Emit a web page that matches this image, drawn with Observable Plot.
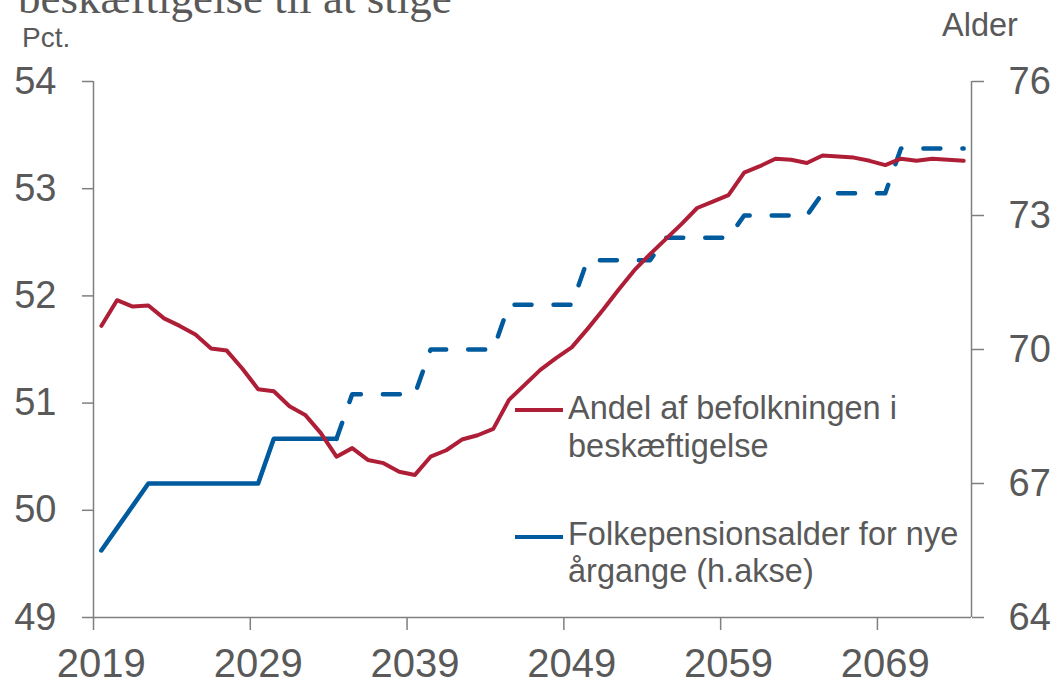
<!DOCTYPE html>
<html><head><meta charset="utf-8">
<script src="https://cdn.jsdelivr.net/npm/d3@7"></script>
<script src="https://cdn.jsdelivr.net/npm/@observablehq/plot@0.6"></script>
<style>
html,body{margin:0;padding:0;background:#fff;overflow:hidden;}
#wrap{position:relative;width:1055px;height:685px;overflow:hidden;font-family:"Liberation Sans",Arial,sans-serif;color:#595959;}
#chart{position:absolute;left:0;top:0;}
.abs{position:absolute;white-space:nowrap;line-height:1;}
.sw{position:absolute;width:48px;height:4px;}
</style></head><body>
<div id="wrap">
  <div id="chart"></div>
  <div class="abs" style="left:18px;top:-24px;font-family:'Liberation Serif','Times New Roman',serif;font-size:45px;color:#595959;">beskæftigelse til at stige</div>
  <div class="abs" style="left:22px;top:24px;font-size:28px;">Pct.</div>
  <div class="abs" style="left:942px;top:9px;font-size:32.5px;">Alder</div>
  <div class="sw" style="left:515px;top:408px;background:#AF1E37;"></div>
  <div class="abs" style="left:568px;top:389px;font-size:32.5px;line-height:38px;">Andel af befolkningen i<br>beskæftigelse</div>
  <div class="sw" style="left:515px;top:535px;background:#005A9E;"></div>
  <div class="abs" style="left:568px;top:516px;font-size:32.5px;line-height:37px;">Folkepensionsalder for nye<br>årgange (h.akse)</div>
</div>
<script>
const years = [2019,2020,2021,2022,2023,2024,2025,2026,2027,2028,
  2029,2030,2031,2032,2033,2034,2035,2036,2037,2038,
  2039,2040,2041,2042,2043,2044,2045,2046,2047,2048,
  2049,2050,2051,2052,2053,2054,2055,2056,2057,2058,
  2059,2060,2061,2062,2063,2064,2065,2066,2067,2068,
  2069,2070,2071,2072,2073,2074];

// Andel af befolkningen i beskæftigelse (pct., venstre akse)
const employmentShare = [51.72,51.96,51.90,51.91,51.79,51.72,51.64,51.51,51.49,51.32,
  51.13,51.11,50.97,50.89,50.72,50.50,50.58,50.47,50.44,50.36,
  50.33,50.50,50.56,50.66,50.70,50.76,51.03,51.17,51.31,51.42,
  51.52,51.69,51.87,52.06,52.24,52.39,52.53,52.67,52.82,52.88,
  52.94,53.15,53.21,53.28,53.27,53.24,53.31,53.30,53.29,53.26,
  53.22,53.28,53.26,53.28,53.27,53.26];

// Folkepensionsalder for nye årgange (alder, højre akse)
const pensionAge = [65.5,66,66.5,67,67,67,67,67,67,67,
  67,68,68,68,68,68,69,69,69,69,
  69,70,70,70,70,70,71,71,71,71,
  71,72,72,72,72,72,72.5,72.5,72.5,72.5,
  72.5,73,73,73,73,73,73.5,73.5,73.5,73.5,
  73.5,74.5,74.5,74.5,74.5,74.5];

const lastSolidYear = 2034;
const leftTicks = [49,50,51,52,53,54];
const rightTicks = [64,67,70,73,76];
const xLabelYears = [2019,2029,2039,2049,2059,2069];
const xTickBounds = [2018.5,2028.5,2038.5,2048.5,2058.5,2068.5];
const xDomain = [2018.5, 2074.5];
const leftDomain = [49, 54];
const rightDomain = [64, 76];

const red = "#AF1E37", blue = "#005A9E", axisGray = "#7f7f7f";
const toLeft = a => leftDomain[0] + (a - rightDomain[0]) * (leftDomain[1]-leftDomain[0]) / (rightDomain[1]-rightDomain[0]);
const toRight = v => rightDomain[0] + (v - leftDomain[0]) * (rightDomain[1]-rightDomain[0]) / (leftDomain[1]-leftDomain[0]);

const rows = years.map((y, i) => ({year: y, share: employmentShare[i], age: pensionAge[i], ageL: toLeft(pensionAge[i])}));
const solid = rows.filter(d => d.year <= lastSolidYear);
const dashed = rows.filter(d => d.year >= lastSolidYear);

const chart = Plot.plot({
  width: 1055, height: 685,
  marginLeft: 93, marginRight: 84, marginTop: 81, marginBottom: 68,
  style: {fontFamily: "Liberation Sans, Arial, sans-serif", color: "#595959", background: "#fff", overflow: "visible"},
  x: {domain: xDomain},
  y: {domain: leftDomain},
  marks: [
    Plot.axisY({ticks: leftTicks, tickSize: 11, tickPadding: 26, fontSize: 38, tickFormat: d => String(d), label: null, stroke: axisGray, strokeWidth: 1.5}),
    Plot.axisY({anchor: "right", ticks: rightTicks.map(toLeft), tickSize: 12, tickPadding: 25, fontSize: 38, tickFormat: v => String(Math.round(toRight(v))), label: null, stroke: axisGray, strokeWidth: 1.5}),
    Plot.axisX({ticks: xTickBounds, tickSize: 13, tickFormat: () => "", label: null, stroke: axisGray, strokeWidth: 1.5}),
    Plot.axisX({ticks: xLabelYears, tickSize: 0, tickPadding: 31, fontSize: 40, tickFormat: d => String(d), label: null}),
    Plot.ruleX([xDomain[0], xDomain[1]], {stroke: axisGray, strokeWidth: 1.5}),
    Plot.ruleY([leftDomain[0]], {stroke: axisGray, strokeWidth: 1.5}),
    Plot.line(solid, {x: "year", y: "ageL", stroke: blue, strokeWidth: 4.5}),
    Plot.line(dashed, {x: "year", y: "ageL", stroke: blue, strokeWidth: 4.5, strokeDasharray: "17,22", strokeLinecap: "round"}),
    Plot.line(rows, {x: "year", y: "share", stroke: red, strokeWidth: 4})
  ]
});
document.getElementById("chart").appendChild(chart);
</script>
</body></html>
